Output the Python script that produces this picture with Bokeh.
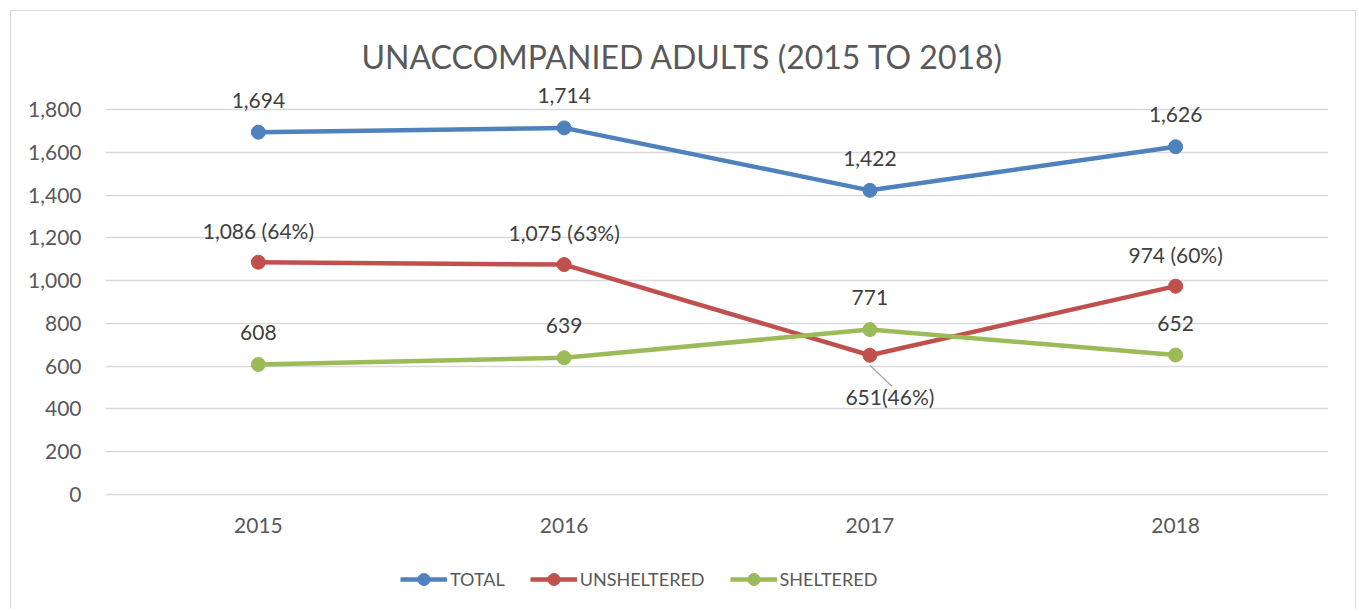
from bokeh.plotting import figure
from bokeh.models import (FactorRange, Range1d, FixedTicker, NumeralTickFormatter,
                          Legend, LegendItem, Title, ColumnDataSource)
from bokeh.core.properties import value
from bokeh.embed import file_html
from bokeh.resources import INLINE

# ---------------- data ----------------
years = ["2015", "2016", "2017", "2018"]
total = [1694, 1714, 1422, 1626]
unsheltered = [1086, 1075, 651, 974]
sheltered = [608, 639, 771, 652]
total_labels = ["1,694", "1,714", "1,422", "1,626"]
unsheltered_labels = ["1,086 (64%)", "1,075 (63%)", "651(46%)", "974 (60%)"]
sheltered_labels = ["608", "639", "771", "652"]
y_ticks = [0, 200, 400, 600, 800, 1000, 1200, 1400, 1600, 1800]
title_text = "UNACCOMPANIED ADULTS (2015 TO 2018)"

# ---------------- style / layout ----------------
FONT = "Lato"
TXT = "#595959"
LBL = "#404040"
GRID = "#d9d9d9"
BLUE, RED, GREEN = "#4F81BD", "#C0504D", "#9BBB59"

W, H = 1346, 599
ORIGIN = 11                      # page px of the canvas' top-left (margin + border)
FL, FR, FT, FB = 94, 29, 69, 5   # borders around the frame
Y_MAX = 1800
TOP_LINE_PX, ZERO_LINE_PX = 109, 494   # page px of the 1,800 and 0 grid lines
frame_top = ORIGIN + FT
frame_bottom = ORIGIN + H - FB
ppu = (ZERO_LINE_PX - TOP_LINE_PX) / Y_MAX
y_start = -(frame_bottom - ZERO_LINE_PX) / ppu
y_end = Y_MAX + (TOP_LINE_PX - frame_top) / ppu

p = figure(width=W, height=H, x_range=FactorRange(*years, range_padding=0),
           y_range=Range1d(y_start, y_end), output_backend="svg", toolbar_location=None,
           min_border_left=FL, min_border_right=FR, min_border_top=FT,
           min_border_bottom=FB)
p.styles = {"margin-left": "10px", "margin-top": "10px",
            "border-left": f"1px solid {GRID}", "border-top": f"1px solid {GRID}",
            "border-right": f"1px solid {GRID}"}
p.outline_line_color = None
p.background_fill_color = "white"
p.border_fill_color = "white"

p.xaxis.visible = False
p.xgrid.grid_line_color = None
p.ygrid.grid_line_color = GRID
p.ygrid.grid_line_width = 1.3
p.yaxis.ticker = FixedTicker(ticks=y_ticks)
p.yaxis.formatter = NumeralTickFormatter(format="0,0")
p.yaxis.axis_line_color = None
p.yaxis.major_tick_line_color = None
p.yaxis.minor_tick_line_color = None
p.yaxis.major_label_text_font = FONT
p.yaxis.major_label_text_font_size = "21px"
p.yaxis.major_label_text_color = TXT
p.yaxis.major_label_standoff = 18

# category labels under the 0 line
p.text(x=years, y=[0] * len(years), text=years, y_offset=31, text_align="center",
       text_baseline="middle", text_font=value(FONT), text_font_size="21px",
       text_color=TXT)

series = [("TOTAL", total, total_labels, BLUE),
          ("UNSHELTERED", unsheltered, unsheltered_labels, RED),
          ("SHELTERED", sheltered, sheltered_labels, GREEN)]

items = []
for name, vals, labs, col in series:
    src = ColumnDataSource(dict(x=years, y=vals, t=labs))
    ln = p.line("x", "y", source=src, line_color=col, line_width=4.5)
    sc = p.scatter("x", "y", source=src, size=14, fill_color=col, line_color=col)
    items.append(LegendItem(label=name, renderers=[ln, sc]))

    # data labels: above the point, except the unsheltered 2017 label (below, with leader)
    xo, yo, base = [], [], []
    for i, v in enumerate(vals):
        if name == "UNSHELTERED" and years[i] == "2017":
            xo.append(20); yo.append(29); base.append("top")
        else:
            xo.append(0); yo.append(-32); base.append("alphabetic")
    src2 = ColumnDataSource(dict(x=years, y=vals, t=labs, xo=xo, yo=yo, b=base))
    p.text("x", "y", text="t", source=src2, x_offset="xo", y_offset="yo",
           text_align="center", text_baseline="b", text_font=value(FONT),
           text_font_size="21px", text_color=LBL)

# leader line for the 2017 unsheltered label
i17 = years.index("2017")
p.segment(x0=[("2017", 0.0)], y0=[unsheltered[i17] - 10 / ppu],
          x1=[("2017", 0.072)], y1=[unsheltered[i17] - 31 / ppu],
          line_color="#a6a6a6", line_width=1.2)

LEG_TOP_PX, LEG_H, LEG_LEFT_PX = 564, 30, 400
legend = Legend(items=items, orientation="horizontal",
                location=(LEG_LEFT_PX - (ORIGIN + FL), frame_bottom - LEG_TOP_PX - LEG_H),
                padding=0, margin=0, spacing=25, label_standoff=3,
                glyph_width=47, glyph_height=LEG_H, border_line_color=None,
                background_fill_alpha=0, label_text_font=FONT,
                label_text_font_size="18px", label_text_color=TXT)
p.add_layout(legend)

p.title = Title(text=title_text, align="left", offset=256, standoff=9,
                text_font=FONT, text_font_size="32px", text_font_style="normal",
                text_color=TXT)

open("out.html", "w").write(file_html(p, INLINE))
